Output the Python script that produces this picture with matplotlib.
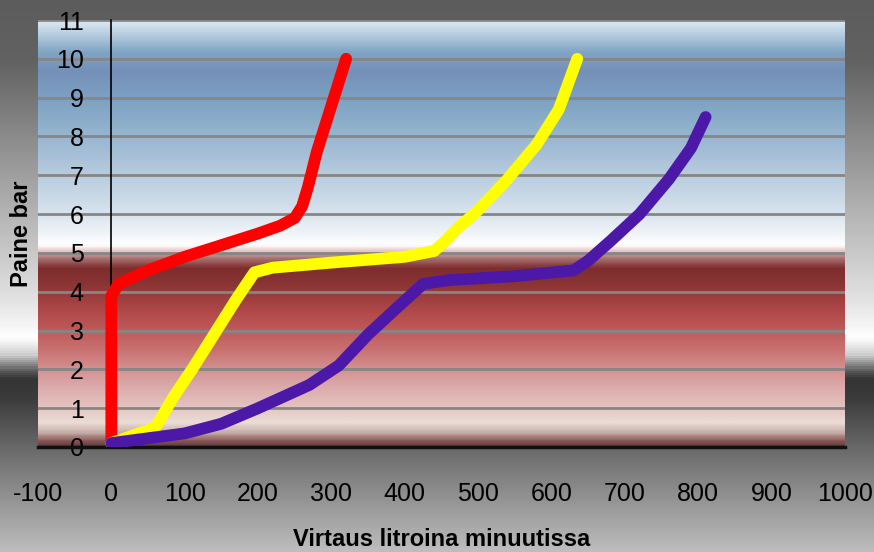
import numpy as np
import matplotlib
matplotlib.use("Agg")
import matplotlib.pyplot as plt
from matplotlib.colors import LinearSegmentedColormap

plt.rcParams['font.family'] = ['Liberation Sans Narrow', 'Liberation Sans', 'DejaVu Sans']
plt.rcParams['axes.unicode_minus'] = False

# data (flow l/min, pressure bar)
red_x = [0, 0, 10, 50, 100, 150, 200, 230, 250, 260, 268, 280, 300, 320]
red_y = [0.1, 3.9, 4.2, 4.55, 4.9, 5.2, 5.5, 5.7, 5.9, 6.2, 6.7, 7.6, 8.8, 10.0]

yellow_x = [0, 60, 85, 110, 140, 170, 195, 220, 300, 400, 440, 455, 470, 500, 540, 580, 610, 635]
yellow_y = [0.1, 0.5, 1.3, 2.0, 2.9, 3.8, 4.5, 4.62, 4.75, 4.9, 5.05, 5.3, 5.6, 6.1, 6.9, 7.8, 8.7, 10.0]

purple_x = [0, 100, 150, 200, 270, 310, 350, 390, 425, 460, 550, 630, 650, 680, 720, 760, 790, 810]
purple_y = [0.1, 0.35, 0.6, 1.0, 1.6, 2.1, 2.9, 3.6, 4.2, 4.3, 4.4, 4.55, 4.8, 5.3, 6.0, 6.9, 7.7, 8.5]

x_ticks = list(range(-100, 1001, 100))
y_ticks = list(range(0, 12))

fig = plt.figure(figsize=(8.74, 5.52), dpi=100)

# figure background: gray gradient (positions from top)
bg_nodes = [(0.0, '#5c5c5c'), (60 / 552, '#626262'), (200 / 552, '#adadad'),
            (300 / 552, '#e2e2e2'), (338 / 552, '#ffffff'), (355 / 552, '#cfcfcf'),
            (372 / 552, '#555555'), (380 / 552, '#343434'), (400 / 552, '#3c3c3c'),
            (450 / 552, '#6a6a6a'), (1.0, '#bdbdbd')]
bg_cmap = LinearSegmentedColormap.from_list('bg', bg_nodes)
bg_ax = fig.add_axes([0, 0, 1, 1], zorder=-5)
bg_ax.imshow(np.linspace(0, 1, 552).reshape(-1, 1), aspect='auto', cmap=bg_cmap,
             extent=[0, 1, 0, 1], origin='upper')
bg_ax.axis('off')

ax = fig.add_axes([38 / 874, 105 / 552, 807 / 874, 427 / 552])
ax.set_xlim(-100, 1000)
ax.set_ylim(0, 11)

# plot area gradient (data y -> colour)
pa_nodes = [(0.0, '#603838'), (0.15, '#906060'), (0.35, '#c8b0aa'), (0.6, '#ecdcd6'),
            (1.0, '#e4c4c0'), (1.5, '#dcacac'), (2.0, '#d49090'), (2.5, '#c87070'),
            (3.0, '#c05a5a'), (3.5, '#b04848'), (4.2, '#8a3434'), (4.6, '#7e2c2c'),
            (4.9, '#b08080'), (5.05, '#e8c8c8'), (5.2, '#ffffff'), (5.5, '#f0f4f8'),
            (6.0, '#dae4ee'), (6.5, '#c8d8e6'), (7.5, '#a8c0d8'), (8.5, '#88acc8'),
            (9.2, '#7a9cc0'), (9.7, '#7590b8'), (10.2, '#80a4c4'), (10.6, '#b0c8dc'),
            (11.0, '#dce8f2')]
pa_cmap = LinearSegmentedColormap.from_list('pa', [(v / 11, c) for v, c in pa_nodes])
ax.imshow(np.linspace(0, 1, 600).reshape(-1, 1), aspect='auto', cmap=pa_cmap,
          extent=[-100, 1000, 0, 11], origin='lower', zorder=0)

for yv in y_ticks[1:]:
    ax.axhline(yv, color='#868686', lw=2, zorder=1)

ax.plot(red_x, red_y, color='#ff0000', lw=8.5, solid_capstyle='round',
        solid_joinstyle='round', zorder=3)
ax.plot(yellow_x, yellow_y, color='#ffff00', lw=8.5, solid_capstyle='round',
        solid_joinstyle='round', zorder=3)
ax.plot(purple_x, purple_y, color='#4b18a8', lw=8.5, solid_capstyle='round',
        solid_joinstyle='round', zorder=3)

for s in ['top', 'right']:
    ax.spines[s].set_visible(False)
ax.spines['left'].set_position(('data', 0))
ax.spines['left'].set_color('black')
ax.spines['left'].set_linewidth(1.2)
ax.spines['left'].set_zorder(2)
ax.spines['bottom'].set_color('#111111')
ax.spines['bottom'].set_linewidth(2.5)

ax.set_xticks(x_ticks)
ax.set_yticks(y_ticks)
ax.tick_params(axis='both', length=0, labelsize=18, colors='black')
ax.tick_params(axis='x', pad=25)
ax.tick_params(axis='y', pad=20)

ax.set_ylabel('Paine bar', fontsize=17, fontweight='bold')
ax.yaxis.set_label_coords(-0.006, 0.5)
ax.set_xlabel('Virtaus litroina minuutissa', fontsize=17, fontweight='bold')
ax.xaxis.set_label_coords(0.5, -0.19)

fig.savefig('out.png', dpi=100)
